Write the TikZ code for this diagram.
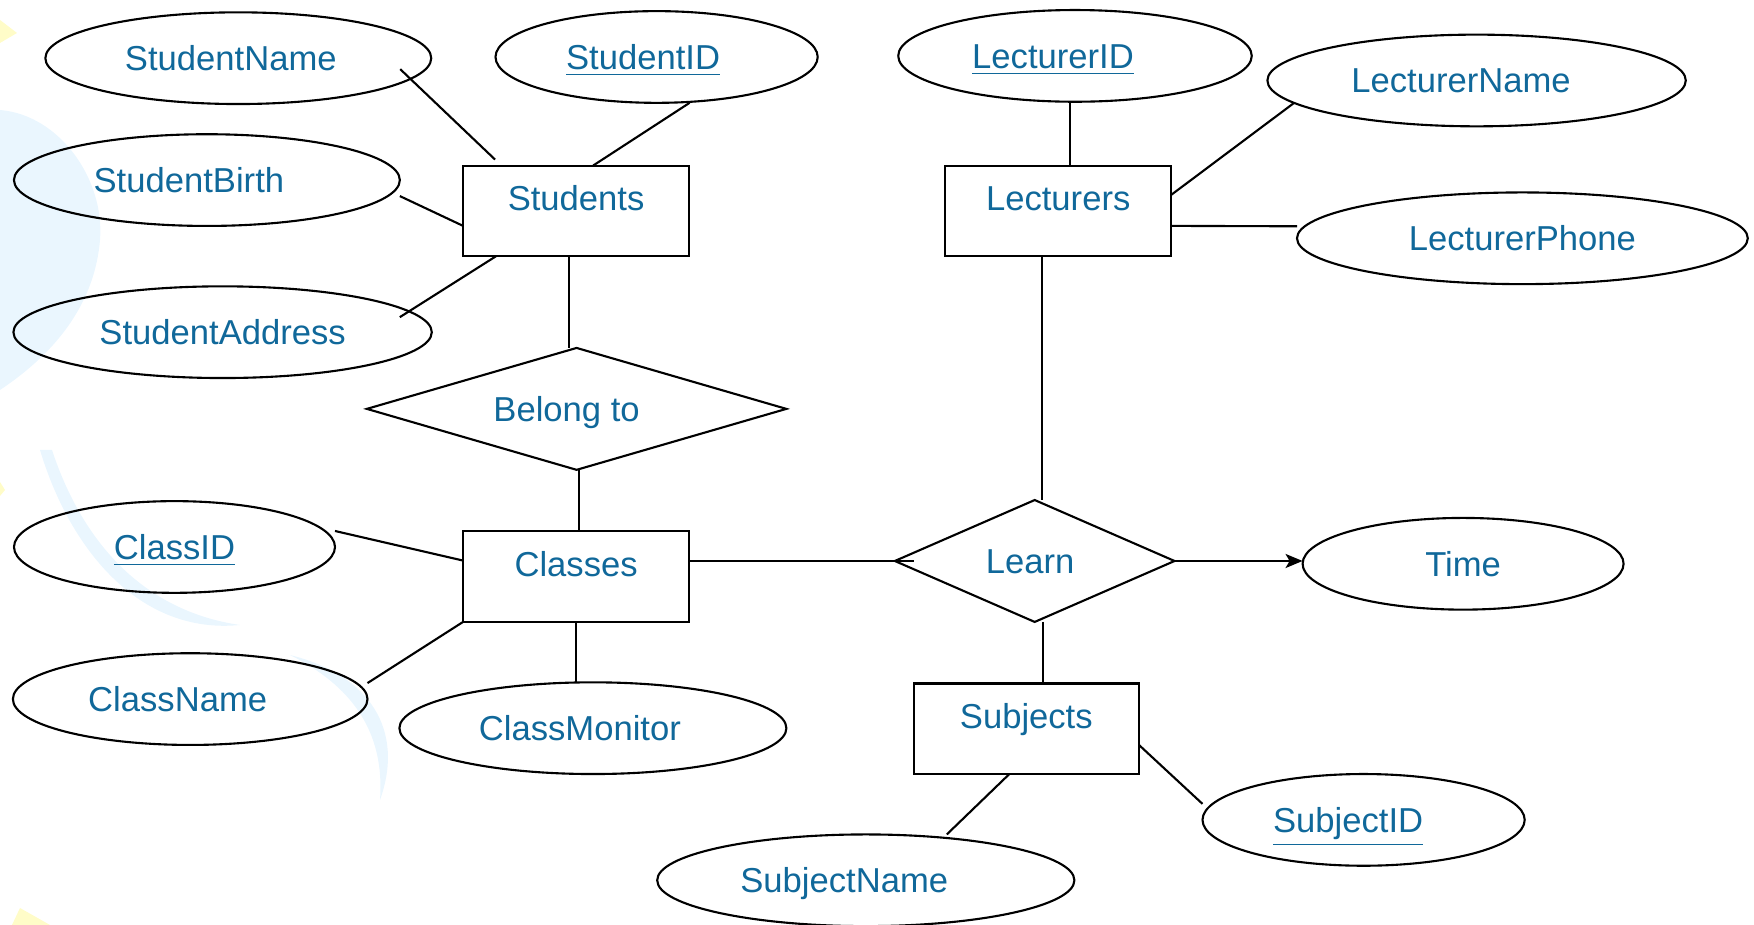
\documentclass[tikz,border=0pt]{standalone}
\usepackage{fontspec}
\setmainfont{Liberation Sans}
\usepackage{tikz}
\usetikzlibrary{shapes.geometric,arrows.meta}

\newcommand{\pkey}[1]{\underline{#1}}

\begin{document}
\begin{tikzpicture}[line width=0.6pt,
	every node/.style={text=TEXT_BLUE, font=\fontsize{9.85pt}{12pt}\selectfont, inner sep=0pt, outer sep=0pt},
	attrib/.style={draw, ellipse, minimum height=0.917cm, text height=0.25cm, text depth=0cm},
	entity/.style={draw, rectangle, minimum width=2.26cm, minimum height=0.906cm, text height=0.25cm, text depth=0.25cm},
	relation/.style={draw, diamond, minimum height=1.219cm, text height=0.25cm, text depth=0cm}]
	\definecolor{TEXT_BLUE}{RGB}{16, 104, 154}
	\definecolor{BG_BLUE}{RGB}{234, 246, 254}
	\definecolor{BG_YELLOW}{RGB}{255, 252, 200}
	\useasboundingbox (0,0) rectangle (17.54,-9.25);

	\fill[BG_BLUE] (0,-1.10) .. controls (0.6,-1.15) and (1.05,-1.8) .. (1.0,-2.4)
		.. controls (0.95,-3.0) and (0.6,-3.5) .. (0,-3.9) -- cycle;
	\fill[BG_BLUE] (0.40,-4.5) .. controls (0.7,-5.5) and (1.4,-6.35) .. (2.4,-6.25)
		.. controls (1.5,-6.12) and (0.85,-5.5) .. (0.52,-4.5) -- cycle;
	\fill[BG_BLUE] (2.9,-6.55) .. controls (3.7,-6.75) and (4.05,-7.3) .. (3.8,-8.0)
		.. controls (3.85,-7.3) and (3.5,-6.85) .. (2.9,-6.55) -- cycle;
	\fill[BG_YELLOW] (0,-0.20) -- (0.17,-0.33) -- (0,-0.43) -- cycle;
	\fill[BG_YELLOW] (0.20,-9.08) -- (0.50,-9.25) -- (0.12,-9.25) -- cycle;
	\fill[BG_YELLOW] (0,-4.82) -- (0.05,-4.90) -- (0,-4.96) -- cycle;

	\node[attrib, minimum width=3.859cm] (sname) at (2.383,-0.582) {StudentName\kern0.15cm};
	\node[attrib, minimum width=3.222cm] (sid) at (6.566,-0.570) {\pkey{StudentID}\kern0.27cm};
	\node[attrib, minimum width=3.859cm] (sbirth) at (2.069,-1.801) {StudentBirth\kern0.36cm};
	\node[attrib, minimum width=4.184cm] (saddr) at (2.226,-3.322) {StudentAddress};
	\node[entity] (students) at (5.761,-2.109) {Students};
	\node[relation, aspect=3.44, minimum width=4.195cm] (belong) at (5.766,-4.089) {Belong to\kern0.2cm};
	\node[entity] (classes) at (5.761,-5.766) {Classes};
	\node[attrib, minimum width=3.210cm] (cid) at (1.745,-5.470) {\pkey{ClassID}};
	\node[attrib, minimum width=3.546cm] (cname) at (1.902,-6.991) {ClassName\kern0.25cm};
	\node[attrib, minimum width=3.870cm] (cmon) at (5.929,-7.282) {ClassMonitor\kern0.26cm};
	\node[attrib, minimum width=3.535cm] (lid) at (10.750,-0.559) {\pkey{LecturerID}\kern0.44cm};
	\node[attrib, minimum width=4.184cm] (lname) at (14.766,-0.805) {LecturerName\kern0.31cm};
	\node[entity] (lecturers) at (10.582,-2.109) {Lecturers};
	\node[attrib, minimum width=4.508cm] (lphone) at (15.224,-2.383) {LecturerPhone};
	\node[relation, aspect=2.29, minimum width=2.797cm] (learn) at (10.347,-5.610) {Learn\kern0.09cm};
	\node[attrib, minimum width=3.210cm] (time) at (14.631,-5.638) {Time};
	\node[entity, minimum width=2.25cm] (subjects) at (10.263,-7.288) {Subjects};
	\node[attrib, minimum width=3.222cm] (sbid) at (13.636,-8.199) {\pkey{SubjectID}\kern0.31cm};
	\node[attrib, minimum width=4.172cm] (sbname) at (8.658,-8.803) {SubjectName\kern0.43cm};

	\draw ([shift={(-0.31,-0.11)}]sname.east) -- ([shift={(0.32,0.06)}]students.north west);
	\draw ([xshift=0.33cm]sid.south) -- ([xshift=0.17cm]students.north);
	\draw ([yshift=-0.16cm]sbirth.east) -- ([yshift=-0.15cm]students.west);
	\draw ([shift={(-0.32,0.15)}]saddr.east) -- ([xshift=0.33cm]students.south west);
	\draw ([xshift=-0.07cm]students.south) -- ([xshift=-0.07cm]students.south |- belong.north);
	\draw ([xshift=0.02cm]belong.south) -- ([xshift=0.02cm]belong.south |- classes.north);
	\draw ([yshift=0.16cm]cid.east) -- ([yshift=0.16cm]classes.west);
	\draw ([yshift=0.16cm]cname.east) -- (classes.south west);
	\draw (classes.south) -- (classes.south |- cmon.north);
	\draw (classes.east |- learn.west) -- ([xshift=0.19cm]learn.west);
	\draw ([xshift=-0.16cm]lecturers.south) -- ([xshift=-0.16cm]lecturers.south |- learn.north);
	\draw[-{Stealth[length=1.7mm, width=1.4mm, inset=0.4mm]}] (learn.east) -- (learn.east -| time.west);
	\draw ([xshift=0.08cm]learn.south) -- ([xshift=0.08cm]learn.south |- subjects.north);
	\draw ([xshift=-0.17cm]subjects.south) -- ([xshift=0.81cm]sbname.north);
	\draw ([yshift=-0.16cm]subjects.east) -- ([yshift=0.16cm]sbid.west);
	\draw ([xshift=-0.05cm]lid.south) -- ([xshift=-0.05cm]lid.south |- lecturers.north);
	\draw (lname.187.5) -- ([yshift=0.16cm]lecturers.east);
	\draw ([yshift=-0.15cm]lecturers.east) -- ([yshift=0.12cm]lphone.west);
\end{tikzpicture}
\end{document}
